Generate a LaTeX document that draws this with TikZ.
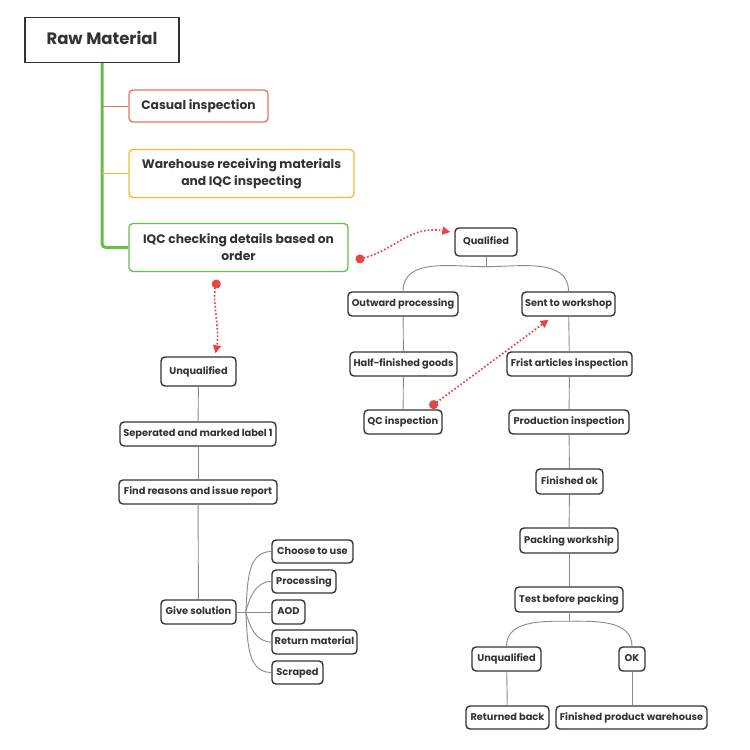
\documentclass[tikz,border=0pt]{standalone}
\usepackage{fontspec}
\setmainfont{Poppins}
\usetikzlibrary{arrows.meta,calc}
\definecolor{boxc}{HTML}{333333}
\definecolor{connc}{HTML}{8A8A8A}
\definecolor{greenc}{HTML}{66BF4A}
\definecolor{casualc}{HTML}{E8735F}
\definecolor{orangec}{HTML}{F5B731}
\definecolor{dotc}{HTML}{E94545}
\definecolor{textc}{HTML}{333333}
\begin{document}
\begin{tikzpicture}[x=1pt,y=-1pt,
  box/.style={draw=boxc, line width=1.4pt, rounded corners=4pt, fill=white, text=textc,
    font=\fontsize{9.8}{12}\selectfont\bfseries, inner sep=0pt, minimum height=24pt, align=center,
    text height=7.3pt, text depth=1.6pt},
  topbox/.style={draw=#1, line width=1.3pt, rounded corners=4pt, fill=white, text=textc,
    font=\fontsize{12.3}{17}\selectfont\bfseries, inner sep=0pt, align=center},
  conn/.style={draw=connc, line width=0.9pt},
  redlink/.style={draw=dotc, line width=1.7pt, dotted, {Circle[length=9pt]}-{Triangle[length=8pt,width=8pt]}}
]
\useasboundingbox (0,0) rectangle (750,750);
\fill[white] (0,0) rectangle (750,750);

% top level
\node[draw=boxc, line width=1.3pt, fill=white, text=textc, font=\fontsize{16.5}{20}\selectfont\bfseries,
  minimum width=154pt, minimum height=45pt, inner sep=0pt, text height=11.5pt, text depth=2.5pt] (raw) at (102,40) {Raw Material};
\node[topbox=casualc, minimum width=139pt, minimum height=32pt, text height=9pt, text depth=2.5pt] (casual) at (198.5,106) {Casual inspection};
\node[topbox=orangec, minimum width=225pt, minimum height=48pt] (ware) at (241.5,173.5) {Warehouse receiving materials\\and IQC inspecting};
\node[topbox=greenc, minimum width=219pt, minimum height=48pt] (iqc) at (238.5,247.5) {IQC checking details based on\\order};

\draw[greenc, line width=3pt, rounded corners=4pt] (raw.south) |- (iqc.west);
\draw[casualc, line width=1pt] (casual.west) -- (casual.west -| raw.south);
\draw[orangec, line width=1pt] (ware.west) -- (ware.west -| raw.south);

% qualified branch
\node[box, minimum width=62pt, minimum height=28pt] (qual) at (486,242) {Qualified};
\node[box, minimum width=110pt] (outw) at (403,304) {Outward processing};
\node[box, minimum width=93pt] (sent) at (568.5,304) {Sent to workshop};
\node[box, minimum width=107pt] (half) at (403.5,364) {Half-finished goods};
\node[box, minimum width=125pt] (frist) at (569.5,364) {Frist articles inspection};
\node[box, minimum width=78pt] (qc) at (403,422) {QC inspection};
\node[box, minimum width=120pt] (prod) at (569,422) {Production inspection};
\node[box, minimum width=67pt, minimum height=25pt] (fok) at (569.5,481.5) {Finished ok};
\node[box, minimum width=98pt, minimum height=25pt] (pack) at (569,540.5) {Packing workship};
\node[box, minimum width=108pt, minimum height=25pt] (test) at (569,599.5) {Test before packing};
\node[box, minimum width=69pt] (unq2) at (506.5,659) {Unqualified};
\node[box, minimum width=26pt] (ok) at (632,659) {OK};
\node[box, minimum width=83pt, minimum height=23pt] (ret) at (507.5,717.5) {Returned back};
\node[box, minimum width=151pt, minimum height=23pt] (fpw) at (631.5,717.5) {Finished product warehouse};

\path (qual.south) ++(0,10) coordinate (qj);
\draw[conn] (qual.south) -- (qj);
\draw[conn] (qj) to[out=180,in=90] (outw.north);
\draw[conn] (qj) to[out=0,in=90] (sent.north);
\draw[conn] (outw) -- (half);
\draw[conn] (half) -- (qc);
\draw[conn] (sent) -- (frist);
\draw[conn] (frist) -- (prod);
\draw[conn] (prod) -- (fok);
\draw[conn] (fok) -- (pack);
\draw[conn] (pack) -- (test);
\path (test.south) ++(0,8.5) coordinate (tj);
\draw[conn] (test.south) -- (tj);
\draw[conn] (tj) to[out=180,in=90] (unq2.north);
\draw[conn] (tj) to[out=0,in=90] (ok.north);
\draw[conn] (unq2) -- (ret);
\draw[conn] (ok.south) -- (ok.south |- fpw.north);

% unqualified branch
\node[box, minimum width=75pt, minimum height=29pt] (unq) at (198.5,371.5) {Unqualified};
\node[box, minimum width=156pt] (sep) at (198,434) {Seperated and marked label 1};
\node[box, minimum width=158pt] (find) at (198,492) {Find reasons and issue\ report};
\node[box, minimum width=75pt] (give) at (198.5,612) {Give solution};
\node[box, minimum width=81pt, minimum height=23pt] (choose) at (312.5,551.5) {Choose\ to use};
\node[box, minimum width=64pt, minimum height=23pt] (proc) at (304,581.5) {Processing};
\node[box, minimum width=33pt] (aod) at (288.5,612) {AOD};
\node[box, minimum width=85pt] (retm) at (314.5,642) {Return material};
\node[box, minimum width=51pt, minimum height=23pt] (scr) at (297.5,672.5) {Scraped};

\draw[conn] (unq) -- (sep);
\draw[conn] (sep) -- (find);
\draw[conn] (find) -- (give);
\path (give.east) ++(9,0) coordinate (gj);
\draw[conn] (give.east) -- (aod.west);
\draw[conn] (gj) to[out=85,in=180] (choose.west);
\draw[conn] (gj) to[out=75,in=180] (proc.west);
\draw[conn] (gj) to[out=-75,in=180] (retm.west);
\draw[conn] (gj) to[out=-85,in=180] (scr.west);

% red dotted links
\coordinate (a1) at ($(iqc.east)+(7,12.5)$);
\coordinate (a2) at ($(qual.west)+(-4,-10)$);
\draw[redlink] (a1) .. controls (395,250) and (410,225) .. (a2);
\coordinate (b1) at ($(iqc.south)+(-21,7.5)$);
\coordinate (b2) at ($(unq.north)+(17,-3)$);
\draw[redlink] (b1) .. controls (212,300) and (220,330) .. (b2);
\coordinate (c1) at ($(qc.north)+(27,-2)$);
\coordinate (c2) at ($(sent.south)+(-20,3)$);
\draw[redlink] (c1) -- (c2);
\end{tikzpicture}
\end{document}
